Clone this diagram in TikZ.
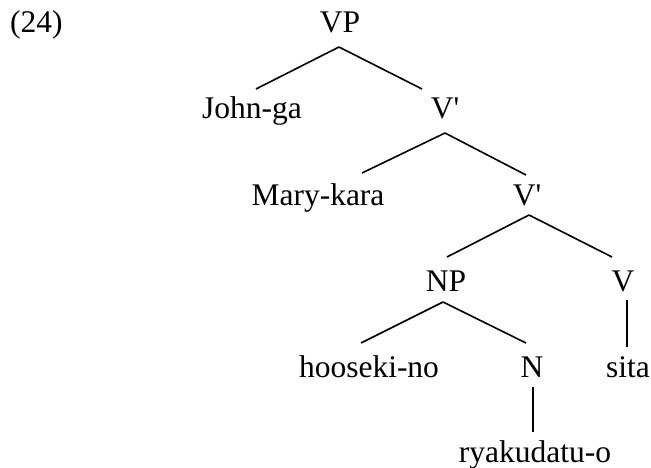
\documentclass[tikz,border=0pt]{standalone}
\usepackage{fontspec}
\setmainfont{Liberation Serif}[Ligatures=TeXOff]
\begin{document}
\begin{tikzpicture}[x=1pt,y=-1pt,
  lbl/.style={anchor=base,inner sep=0pt,font=\fontsize{31.5}{36}\selectfont},
  edge/.style={draw=black,line width=1.6pt}]
\useasboundingbox (0,0) rectangle (651,468);
% labels
\node[lbl,anchor=base west] (ex) at (10,33) {(24)};
\node[lbl] (vp) at (340,33) {VP};
\node[lbl] (jg) at (252,119) {John-ga};
\node[lbl] (vb1) at (445,119) {V'};
\node[lbl] (mk) at (318,205) {Mary-kara};
\node[lbl] (vb2) at (527,205) {V'};
\node[lbl] (np) at (446,291) {NP};
\node[lbl] (v) at (623,291) {V};
\node[lbl] (hn) at (369,377) {hooseki-no};
\node[lbl] (n) at (532,377) {N};
\node[lbl] (st) at (628,377) {sita};
\node[lbl] (ry) at (535,462) {ryakudatu-o};
% connector end points
\coordinate (vp-b) at (339,47);
\coordinate (jg-t) at (256,89);
\coordinate (vb1-t) at (422,89);
\coordinate (vb1-b) at (445,133);
\coordinate (mk-t) at (362,173);
\coordinate (vb2-t) at (526,175);
\coordinate (vb2-b) at (529,215);
\coordinate (np-t) at (447,257);
\coordinate (v-t) at (612,257);
\coordinate (np-b) at (443,302);
\coordinate (hn-t) at (361,343);
\coordinate (n-t) at (526,343);
\coordinate (v-b) at (627,300);
\coordinate (st-t) at (627,347);
\coordinate (n-b) at (533,387);
\coordinate (ry-t) at (533,432);
% connectors
\draw[edge] (vp-b) -- (jg-t);
\draw[edge] (vp-b) -- (vb1-t);
\draw[edge] (vb1-b) -- (mk-t);
\draw[edge] (vb1-b) -- (vb2-t);
\draw[edge] (vb2-b) -- (np-t);
\draw[edge] (vb2-b) -- (v-t);
\draw[edge] (np-b) -- (hn-t);
\draw[edge] (np-b) -- (n-t);
\draw[edge] (v-b) -- (st-t);
\draw[edge] (n-b) -- (ry-t);
\end{tikzpicture}
\end{document}
